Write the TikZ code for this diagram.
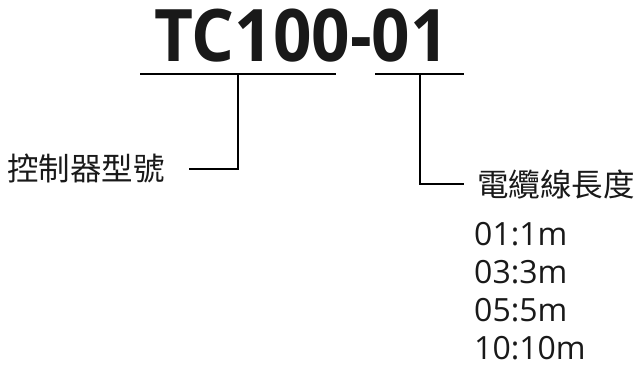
\documentclass[tikz,border=0pt]{standalone}
\usepackage{fontspec}
\setmainfont{Open Sans}
\newfontfamily\cjk{Noto Sans CJK TC}
\newfontfamily\codefont[FakeStretch=0.93]{Open Sans Bold}
\usepackage{tikz}
\usetikzlibrary{positioning}

\begin{document}
\begin{tikzpicture}[
        x=1pt, y=-1pt,
        every node/.style={inner sep=0pt, text=black!90},
        title/.style={font=\codefont\fontsize{72.5}{80}\selectfont},
        cjklabel/.style={font=\cjk\fontsize{31.5}{36}\selectfont},
        entry/.style={font=\fontsize{32}{38}\selectfont},
        bar/.style={line width=1.6pt},
    ]
        \useasboundingbox (0,0) rectangle (639,366);

        \node[title, anchor=base] (code) at (301.5,62) {TC100-01};

        % underlines below the two parts of the code
        \coordinate (bar1w) at (140,74);
        \coordinate (bar1e) at (336,74);
        \coordinate (bar2w) at (375,74);
        \coordinate (bar2e) at (464,74);
        \coordinate (tap1) at (238,74);
        \coordinate (tap2) at (420,74);

        \node[cjklabel, anchor=base east] (model) at (165,181) {控制器型號};
        \node[cjklabel, anchor=base west] (cable) at (477,196) {電纜線長度};

        \draw[bar] (bar1w) -- (bar1e);
        \draw[bar] (bar2w) -- (bar2e);
        \draw[bar] (tap1) |- ([xshift=24pt]model.east);
        \draw[bar] (tap2) |- ([xshift=-13pt]cable.west);

        \foreach \txt [count=\i from 0] in {01:1m, 03:3m, 05:5m, 10:10m}
            \node[entry, anchor=base west] (len\i) at (474,245+38*\i) {\txt};
    \end{tikzpicture}
\end{document}
